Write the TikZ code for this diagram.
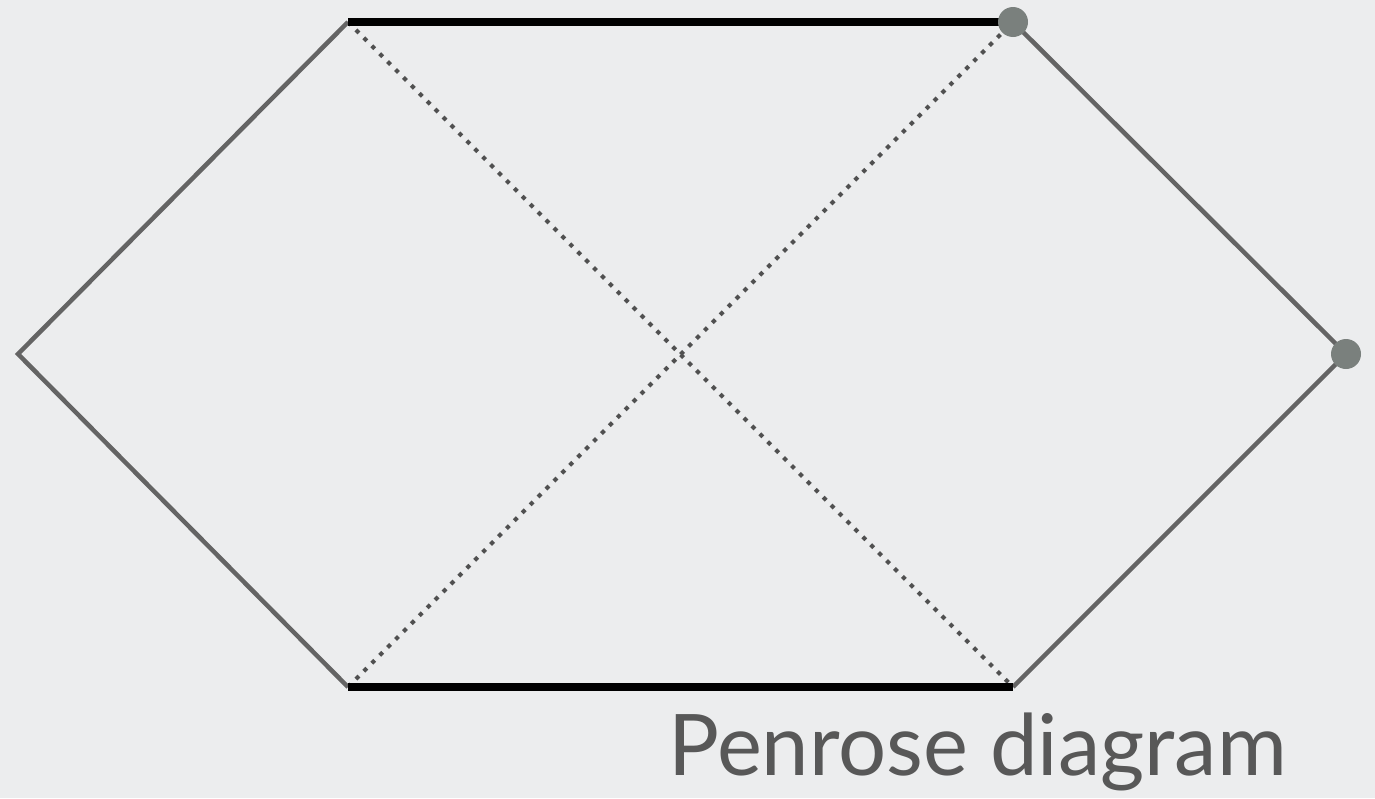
\documentclass[tikz,border=0pt]{standalone}
\usepackage{fontspec}
\setmainfont{Lato}
\definecolor{bg}{RGB}{236,237,238}
\definecolor{side}{RGB}{100,100,100}
\definecolor{dotc}{RGB}{80,80,80}
\definecolor{pt}{RGB}{122,128,125}
\definecolor{txt}{RGB}{88,88,88}
\begin{document}
\begin{tikzpicture}[x=1pt,y=-1pt,
  sideline/.style={draw=side,line width=4.5pt,line join=miter},
  horizon/.style={draw=dotc,line width=4.2pt,dash pattern=on 4.2pt off 7pt},
  singular/.style={draw=black,line width=8.5pt},
  marker/.style={circle,fill=pt,minimum size=30pt,inner sep=0pt},
  caption/.style={anchor=base west,text=txt,font=\fontsize{85}{100}\selectfont,inner sep=0pt}]
\fill[bg] (0,0) rectangle (1375,798);
\useasboundingbox (0,0) rectangle (1375,798);
\coordinate (TL) at (348,22);
\coordinate (TR) at (1013,22);
\coordinate (R) at (1346,354);
\coordinate (BR) at (1013,687);
\coordinate (BL) at (348,687);
\coordinate (L) at (18,354);
\draw[horizon] (TL) -- (BR);
\draw[horizon] (BL) -- (TR);
\draw[sideline] (TL) -- (L) -- (BL);
\draw[sideline] (TR) -- (R) -- (BR);
\draw[singular] (TL) -- (TR);
\draw[singular] (BL) -- (BR);
\node[marker] (m1) at (TR) {};
\node[marker] (m2) at (R) {};
\node[caption] (cap) at (668,775) {Penrose diagram};
\end{tikzpicture}
\end{document}
